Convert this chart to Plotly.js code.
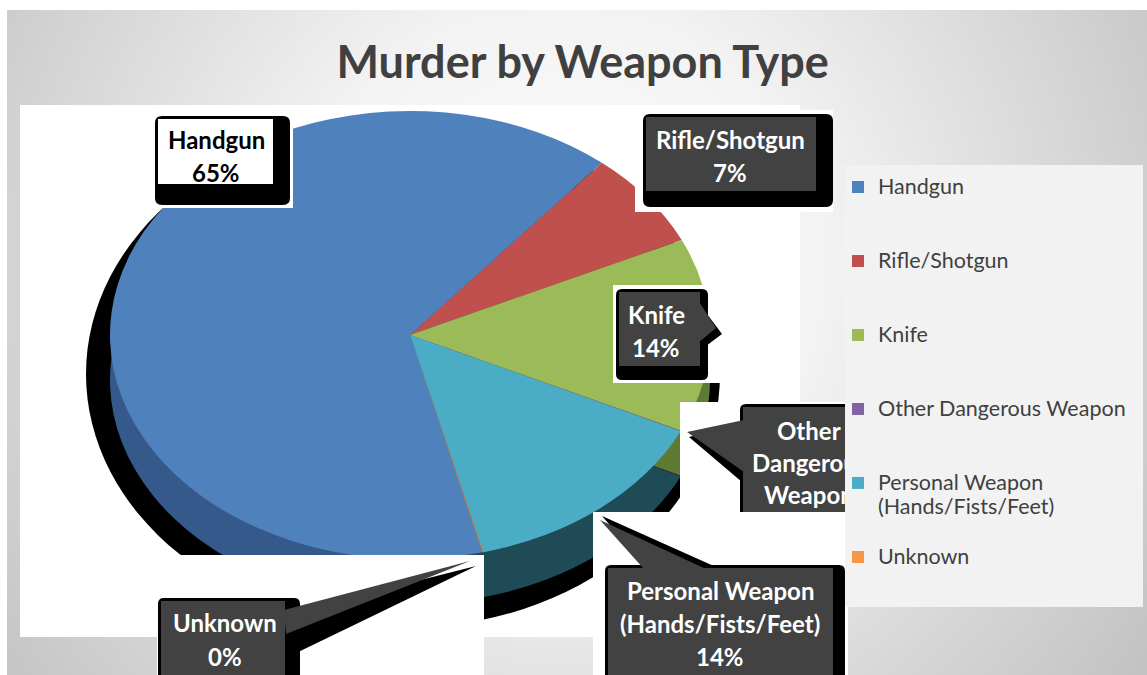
<!DOCTYPE html>
<html><head><meta charset="utf-8">
<script src="https://cdn.plot.ly/plotly-3.0.1.min.js"></script>
<style>
html,body{margin:0;padding:0;background:#fff;}
#wrap{position:relative;width:1147px;height:675px;overflow:hidden;}
#bg{position:absolute;left:7px;top:10px;width:1140px;height:665px;background:radial-gradient(circle at 553px 260px,#ffffff 0px,#f3f3f3 260px,#c3c3c3 700px);}
#chart{position:absolute;left:0;top:0;width:1147px;height:675px;}
</style></head><body>
<div id="wrap"><div id="bg"></div><div id="chart"></div></div>
<script>
// ---- data ----
const categories = ['Handgun', 'Rifle/Shotgun', 'Knife', 'Other Dangerous Weapon', 'Personal Weapon (Hands/Fists/Feet)', 'Unknown'];
const values = [65, 7, 14, 0.05, 14, 0.05];
const topColors = ['#4f81bd', '#c0504d', '#9bbb59', '#8064a2', '#4bacc6', '#f79646'];
const sideColors = ['#34598a', '#7d2f2d', '#5f7a33', '#4f3d68', '#1f4b56', '#a35e25'];
const legendLines = [['Handgun'], ['Rifle/Shotgun'], ['Knife'], ['Other Dangerous Weapon'], ['Personal Weapon', '(Hands/Fists/Feet)'], ['Unknown']];
const calloutLines = [['Handgun'], ['Rifle/Shotgun'], ['Knife'], ['Other', 'Dangerous', 'Weapon'], ['Personal Weapon', '(Hands/Fists/Feet)'], ['Unknown']];
const chartTitle = 'Murder by Weapon Type';

// ---- geometry helpers (pixels -> paper) ----
const W = 1147, H = 675;
const X = p => p / W;
const Y = p => 1 - p / H;
const CX = 410, CY = 335, R = 300, RY = 224, DEPTH = 45, ROT = 166;

const total = values.reduce((a, b) => a + b, 0);
const pct = values.map(v => Math.round(v / total * 100) + '%');

const legendText = legendLines.map(ls => {
  const arr = ls.map(l => '<span style="font-size:21.5px">' + l + '</span>');
  while (arr.length < 3) arr.push('\u00a0');
  return arr.join('<br>');
});

const domain = {x: [X(CX - R), X(CX + R)], y: [Y(CY + R), Y(CY - R)]};

const sideTrace = {
  type: 'pie', labels: categories, values: values, sort: false, direction: 'clockwise',
  rotation: ROT, marker: {colors: sideColors, line: {width: 0}}, textinfo: 'none',
  hoverinfo: 'skip', showlegend: false, domain: domain
};
const topTrace = {
  type: 'pie', labels: legendText, values: values, sort: false, direction: 'clockwise',
  rotation: ROT, marker: {colors: topColors, line: {width: 0}}, textinfo: 'none',
  hoverinfo: 'skip', showlegend: true, domain: domain
};

// ---- shapes ----
const shapes = [];
function rect(x0, y0, x1, y1, fill, layer) {
  shapes.push({type: 'rect', xref: 'paper', yref: 'paper', x0: X(x0), x1: X(x1), y0: Y(y1), y1: Y(y0),
    fillcolor: fill, line: {width: 0}, layer: layer || 'above'});
}
function pt(x, y) { return X(x).toFixed(5) + ',' + Y(y).toFixed(5); }
function poly(points, fill, layer) {
  const d = 'M' + points.map(p => pt(p[0], p[1])).join('L') + 'Z';
  shapes.push({type: 'path', xref: 'paper', yref: 'paper', path: d, fillcolor: fill, line: {width: 0}, layer: layer || 'above'});
}
function rrect(x0, y0, x1, y1, r, fill) {
  const d = 'M' + pt(x0 + r, y0) + 'L' + pt(x1 - r, y0) + 'Q' + pt(x1, y0) + ' ' + pt(x1, y0 + r) +
    'L' + pt(x1, y1 - r) + 'Q' + pt(x1, y1) + ' ' + pt(x1 - r, y1) + 'L' + pt(x0 + r, y1) +
    'Q' + pt(x0, y1) + ' ' + pt(x0, y1 - r) + 'L' + pt(x0, y0 + r) + 'Q' + pt(x0, y0) + ' ' + pt(x0 + r, y0) + 'Z';
  shapes.push({type: 'path', xref: 'paper', yref: 'paper', path: d, fillcolor: fill, line: {width: 0}, layer: 'above'});
}
const DARK = '#424242';
// plot area + drop shadow (below the pie)
rect(20, 105, 800, 637, '#ffffff', 'below');
shapes.push({type: 'circle', xref: 'paper', yref: 'paper', x0: X(86), x1: X(720), y0: Y(628), y1: Y(120),
  fillcolor: '#000000', line: {width: 0}, layer: 'below'});
// Handgun callout
rect(152, 113, 293, 208, '#ffffff');
rrect(155, 116, 290, 205, 7, '#000000');
rect(158, 119, 273, 184, '#ffffff');
// Rifle/Shotgun callout
rect(635, 110, 833, 212, '#ffffff');
rrect(643, 114, 833, 207, 7, '#000000');
rect(646, 117, 816, 191, DARK);
// Knife callout
rect(613, 285, 760, 383, '#ffffff');
poly([[698, 302], [722, 334], [698, 352]], '#000000');
rrect(616, 289, 708, 380, 6, '#000000');
rect(619, 292, 700, 366, DARK);
poly([[698, 300], [716, 328], [698, 343]], DARK);
// Other Dangerous Weapon callout
rect(680, 402, 845, 512, '#ffffff');
poly([[742, 424], [689, 437], [742, 482]], '#000000');
rrect(740, 404, 860, 530, 6, '#000000');
rect(743, 407, 860, 530, DARK);
poly([[744, 420], [687, 432], [744, 472]], DARK);
// Personal Weapon callout
rect(593, 512, 848, 675, '#ffffff');
poly([[646, 567], [602, 516], [716, 567]], '#000000');
rrect(605, 565, 845, 690, 6, '#000000');
rect(608, 568, 833, 690, DARK);
poly([[644, 569], [600, 520], [706, 569]], DARK);
// Unknown callout
rect(157, 555, 484, 675, '#ffffff');
poly([[286, 614], [476, 566], [290, 656]], '#000000');
rrect(158, 598, 300, 690, 6, '#000000');
rect(161, 601, 285, 690, DARK);
poly([[284, 610], [470, 561], [286, 634]], DARK);

// ---- callout texts ----
const callouts = [
  {x: 216, y: 140, sp: 32, color: '#000000'},
  {x: 730, y: 140, sp: 32, color: '#ffffff'},
  {x: 656, y: 314, sp: 33, color: '#ffffff'},
  {x: 809, y: 430, sp: 32, color: '#ffffff'},
  {x: 720, y: 590, sp: 33, color: '#ffffff'},
  {x: 225, y: 622, sp: 34, color: '#ffffff'}
];
const annotations = [];
categories.forEach((c, i) => {
  const lines = calloutLines[i].concat([pct[i]]);
  const co = callouts[i];
  lines.forEach((t, k) => {
    annotations.push({xref: 'paper', yref: 'paper', x: X(co.x), y: Y(co.y + k * co.sp), text: t,
      showarrow: false, xanchor: 'center', yanchor: 'middle',
      font: {family: 'Lato', size: 24, color: co.color, weight: 'bold'}});
  });
});

const layout = {
  width: W, height: H,
  margin: {l: 0, r: 0, t: 0, b: 0, autoexpand: false},
  paper_bgcolor: 'rgba(0,0,0,0)', plot_bgcolor: 'rgba(0,0,0,0)',
  title: {text: chartTitle, x: 0.508, xanchor: 'center', y: Y(62), yanchor: 'middle',
    font: {family: 'Lato', size: 45, color: '#404040', weight: 'bold'}},
  showlegend: true,
  legend: {x: X(838), xanchor: 'left', y: Y(168.7), yanchor: 'top', bgcolor: '#f2f2f2', borderwidth: 0,
    font: {family: 'Lato', size: 18.2, color: '#404040'}, valign: 'top', traceorder: 'normal'},
  shapes: shapes,
  annotations: annotations
};

const gd = document.getElementById('chart');
Plotly.newPlot(gd, [sideTrace, topTrace], layout, {staticPlot: true, displayModeBar: false}).then(() => {
  const s = RY / R;
  const traces = gd.querySelectorAll('.pielayer g.trace');
  if (traces.length === 2) {
    traces[0].setAttribute('transform', 'translate(0,' + (CY * (1 - s) + DEPTH) + ') scale(1,' + s + ')');
    traces[1].setAttribute('transform', 'translate(0,' + (CY * (1 - s)) + ') scale(1,' + s + ')');
  }
  const info = gd.querySelector('.infolayer');
  const leg = info && info.querySelector('.legend');
  if (leg) {
    info.appendChild(leg);
    const m = /translate\(\s*([-\d.e]+)[ ,]+([-\d.e]+)\s*\)/.exec(leg.getAttribute('transform') || '');
    const bg = leg.querySelector('rect.bg');
    if (m && bg) {
      const lx = +m[1], ly = +m[2];
      bg.setAttribute('x', 845 - lx);
      bg.setAttribute('y', 165 - ly);
      bg.setAttribute('width', 298);
      bg.setAttribute('height', 442);
    }
  }
});
</script>
</body></html>
